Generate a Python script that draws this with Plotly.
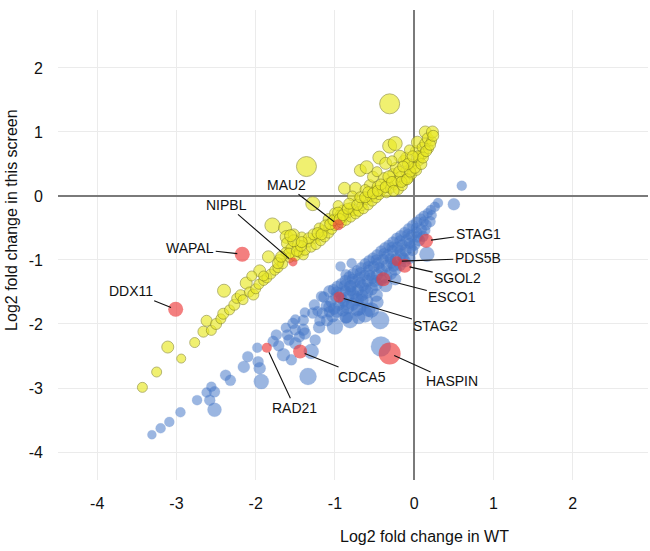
import plotly.graph_objects as go

# ---------------- data ----------------
yellow_wt = [-3.43, -3.25, -3.11, -2.94, -2.77, -2.66, -2.62, -2.56, -2.50, -2.44, -2.41, -2.40, -2.33, -2.27,
             -2.24, -2.19, -2.16, -2.12, -2.08, -2.03, -2.00, -1.96, -1.95, -1.90, -1.86, -1.84, -1.81, -1.79,
             -1.76, -1.72, -1.70, -1.66, -1.63, -1.61, -1.60, -1.62, -1.57, -1.55, -1.50, -1.47, -1.45, -1.40,
             -1.38, -1.36, -1.34, -1.30, -1.28, -1.25, -1.24, -1.18, -1.15, -1.13, -1.08, -1.08, -1.04, -1.00,
             -1.00, -0.98, -0.93, -0.92, -0.90, -0.88, -0.88, -0.86, -0.83, -0.80, -0.80, -0.76, -0.74, -0.74,
             -0.70, -0.70, -0.68, -0.66, -0.64, -0.60, -0.60, -0.58, -0.56, -0.55, -0.53, -0.50, -0.48, -0.46,
             -0.44, -0.44, -0.40, -0.38, -0.36, -0.35, -0.33, -0.31, -0.31, -0.30, -0.27, -0.25, -0.24, -0.23,
             -0.22, -0.20, -0.17, -0.15, -0.13, -0.12, -0.10, -0.10, -0.07, -0.04, -0.03, 0.00, 0.02, 0.03,
             0.04, 0.06, 0.08, 0.10, 0.12, 0.14, 0.14, 0.17, 0.18, 0.22, 0.23, -0.52, -0.47, -0.62, -0.78,
             -0.96, -1.20, -1.42, -1.52, -2.05, -0.18, -0.28, -0.06]
yellow_screen = [-2.99, -2.75, -2.36, -2.54, -2.29, -2.12, -1.95, -2.10, -2.00, -1.92, -1.84, -1.48, -1.78, -1.70,
                 -1.60, -1.55, -1.62, -1.36, -1.50, -1.54, -1.45, -1.38, -1.17, -1.32, -1.28, -0.95, -1.22, -0.46,
                 -1.16, -1.12, -1.00, -1.06, -0.50, -0.64, -0.74, -0.88, -0.96, -0.82, -0.94, -0.77, -0.88, -0.92,
                 -0.84, 0.46, -0.72, -0.80, -0.12, -0.66, -0.76, -0.70, -0.54, -0.64, -0.36, -0.58, -0.52, -0.27,
                 -0.46, -0.36, -0.30, -0.42, -0.22, -0.32, 0.12, -0.38, -0.26, -0.18, -0.33, -0.22, 0.12, -0.28,
                 -0.06, -0.24, 0.40, -0.15, -0.20, 0.45, -0.05, -0.14, 0.17, 0.00, -0.08, 0.08, -0.03, 0.15,
                 0.60, 0.02, 0.10, 0.28, 0.51, 0.05, 0.20, 0.78, 1.44, 0.12, 0.35, 0.18, 0.82, 0.44,
                 0.24, 0.10, 0.30, 0.16, 0.55, 0.24, 0.38, 0.60, 0.28, 0.45, 0.34, 0.50, 0.70, 0.40,
                 0.84, 0.55, 0.62, 0.76, 0.66, 0.82, 1.00, 0.90, 0.74, 0.86, 1.00, 0.30, 0.38, 0.10, 0.00,
                 -0.15, -0.50, -0.64, -0.60, -1.25, 0.62, 0.55, 0.72]
yellow_weight = [10, 10, 12, 9, 10, 11, 11, 10, 11, 10, 11, 13, 10, 11,
                 10, 11, 10, 12, 10, 11, 10, 10, 12, 10, 10, 12, 10, 15,
                 10, 10, 11, 10, 13, 13, 12, 10, 10, 11, 10, 11, 10, 10,
                 11, 20, 10, 10, 14, 10, 10, 10, 11, 10, 11, 10, 10, 11,
                 10, 10, 11, 10, 10, 11, 12, 10, 10, 10, 10, 11, 12, 10,
                 10, 10, 12, 10, 10, 13, 11, 10, 11, 11, 10, 10, 10, 11,
                 13, 10, 10, 11, 12, 10, 10, 14, 20, 10, 10, 10, 14, 11,
                 10, 10, 11, 10, 11, 10, 11, 11, 10, 10, 10, 10, 11, 10,
                 12, 10, 10, 10, 10, 11, 12, 11, 10, 10, 12, 11, 10, 10, 10,
                 10, 10, 10, 11, 10, 12, 10, 10]

# extra yellow points in the crowded part of the band
yellow_dense_wt = [-1.58, -1.48, -1.43, -1.33, -1.27, -1.22, -1.17, -1.12, -1.06, -1.02, -0.96, -0.94,
                   -0.90, -0.84, -0.82, -0.72, -0.68, -0.62, -0.58, -0.52, -0.46, -0.42, -0.36, -0.32,
                   -0.28, -0.26, -0.19, -0.16, -0.09, -0.05, 0.01, 0.05, 0.09, 0.11, 0.15, 0.20, 0.24,
                   -0.08, -0.02, -0.14, -1.90, -1.72, -1.68, -1.52, -1.42, -1.56]
yellow_dense_screen = [-0.90, -0.86, -0.78, -0.66, -0.60, -0.58, -0.60, -0.46, -0.44, -0.38, -0.26, -0.36,
                       -0.30, -0.20, -0.12, -0.14, -0.02, -0.02, 0.06, 0.04, 0.08, 0.18, 0.14, 0.30,
                       0.22, 0.08, 0.38, 0.22, 0.26, 0.38, 0.44, 0.62, 0.50, 0.60, 0.70, 0.80, 0.94,
                       0.50, 0.62, 0.46, -1.25, -1.05, -0.95, -0.70, -0.72, -0.62]
yellow_dense_weight = [11, 11, 11, 11, 11, 11, 11, 11, 11, 11, 11, 11,
                       11, 11, 11, 11, 11, 11, 11, 11, 11, 11, 11, 12,
                       11, 11, 11, 11, 11, 11, 11, 11, 11, 11, 11, 11, 11,
                       11, 11, 11, 10, 11, 11, 12, 11, 12]

blue_wt = [-3.31, -3.20, -3.09, -2.95, -2.74, -2.62, -2.58, -2.52, -2.52, -2.56, -2.38, -2.32, -2.15, -2.10,
           -1.98, -1.97, -1.95, -1.93, -1.78, -1.74, -1.71, -1.65, -1.60, -1.55, -1.50, -1.50, -1.53, -1.40,
           -1.40, -1.34, -1.30, -1.38, -1.28, -1.17, -1.16, -1.10, -1.07, -1.07, -1.03, -1.00, -0.86, -0.81,
           -0.86, -0.93, -0.79, -0.80, -0.66, -0.54, -0.43, -0.42, 0.16, 0.50, 0.60, 0.30,
           0.26, 0.17, 0.08, -0.02, -0.12, -0.22, -0.32, -0.42, -0.52, -0.62, -0.72, -0.82, -0.92, -1.02,
           -1.14, -1.26, -1.38, -1.50, -1.62,
           0.20, 0.09, -0.03, -0.15, -0.27, -0.39, -0.51, -0.63, -0.75, -0.87, -0.99, -1.11, -1.22,
           0.11, 0.00, -0.11, -0.23, -0.35, -0.47, -0.59, -0.71, -0.83, -0.95, -1.07, -1.19,
           -0.06, -0.18, -0.30, -0.42, -0.54, -0.66, -0.78, -0.90,
           -0.24, -0.36, -0.48, -0.60, -0.72, -0.86,
           -0.47, -0.58, -0.70,
           0.22, 0.12, 0.02, -0.08, -0.18, -0.28, -0.38, -0.48, -0.58, -0.68, -0.78, -0.88, -0.98,
           0.14, 0.04, -0.06, -0.18, -0.30, -0.44, -0.56, -0.68, -0.80, -0.92,
           -0.02, -0.14, -0.26, -0.50, -0.62, -0.74, -0.86, -0.98]
blue_screen = [-3.73, -3.63, -3.53, -3.38, -3.19, -3.07, -3.19, -3.34, -3.06, -2.98, -2.80, -2.88, -2.67, -2.51,
               -2.37, -2.59, -2.69, -2.90, -2.27, -2.17, -2.34, -2.48, -2.17, -2.56, -2.09, -2.30, -1.99, -1.94,
               -2.09, -2.82, -2.43, -2.15, -1.83, -1.57, -1.83, -1.94, -1.49, -1.73, -1.87, -2.04, -1.88, -1.94,
               -1.23, -1.10, -1.05, -1.41, -1.63, -1.78, -1.94, -2.35, -0.91, -0.13, 0.16, -0.11,
               -0.17, -0.27, -0.36, -0.46, -0.57, -0.66, -0.77, -0.86, -0.97, -1.06, -1.17, -1.26, -1.37, -1.46,
               -1.58, -1.70, -1.82, -1.93, -2.06,
               -0.40, -0.52, -0.62, -0.76, -0.86, -0.99, -1.10, -1.24, -1.34, -1.48, -1.58, -1.72, -1.80,
               -0.63, -0.76, -0.85, -0.99, -1.09, -1.23, -1.33, -1.47, -1.57, -1.71, -1.81, -1.95,
               -0.97, -1.08, -1.21, -1.31, -1.45, -1.55, -1.69, -1.79,
               -1.30, -1.40, -1.55, -1.64, -1.78, -1.90,
               -1.66, -1.78, -1.90,
               -0.30, -0.40, -0.50, -0.60, -0.70, -0.80, -0.90, -1.00, -1.10, -1.20, -1.30, -1.40, -1.50,
               -0.54, -0.64, -0.74, -0.86, -0.98, -1.12, -1.24, -1.36, -1.48, -1.60,
               -0.85, -0.97, -1.09, -1.33, -1.45, -1.57, -1.69, -1.81]
blue_weight = [9, 10, 10, 10, 10, 10, 11, 14, 11, 10, 11, 11, 12, 11,
               10, 11, 12, 15, 11, 11, 11, 13, 11, 11, 11, 12, 11, 11,
               12, 17, 15, 12, 11, 11, 11, 12, 12, 12, 13, 16, 14, 16,
               11, 10, 10, 12, 13, 15, 18, 20, 15, 12, 10, 10,
               10, 10, 11, 11, 11, 11, 11, 11, 11, 11, 11, 11, 11, 11,
               11, 11, 10, 10, 10,
               11, 11, 12, 11, 12, 11, 12, 11, 12, 11, 11, 11, 10,
               11, 12, 12, 12, 12, 12, 12, 12, 12, 11, 11, 11,
               12, 12, 13, 12, 13, 12, 13, 12,
               12, 13, 13, 13, 13, 12,
               13, 14, 13,
               10, 10, 10, 11, 11, 11, 11, 11, 11, 11, 11, 11, 11,
               10, 11, 11, 11, 11, 11, 11, 11, 11, 11,
               11, 11, 12, 12, 12, 12, 12, 12]

# extra blue points filling the crowded wedge
blue_dense_wt = [0.21, 0.12, 0.03, -0.07, -0.17, -0.27, -0.37, -0.47, -0.57, -0.67, -0.77, -0.87, -0.97,
                 0.15, 0.03, -0.09, -0.21, -0.33, -0.45, -0.57, -0.69, -0.81, -0.93, -1.05,
                 0.06, -0.05, -0.17, -0.29, -0.41, -0.53, -0.65, -0.77, -0.89, -1.01,
                 -0.12, -0.24, -0.36, -0.48, -0.60, -0.72, -0.84,
                 -1.58, -1.45, -1.20, -1.25, -0.70, -0.62]
blue_dense_screen = [-0.22, -0.31, -0.41, -0.51, -0.62, -0.72, -0.81, -0.92, -1.01, -1.12, -1.21, -1.32, -1.41,
                     -0.45, -0.57, -0.69, -0.81, -0.93, -1.05, -1.17, -1.29, -1.41, -1.53, -1.65,
                     -0.69, -0.80, -0.92, -1.04, -1.16, -1.28, -1.40, -1.52, -1.64, -1.76,
                     -1.02, -1.14, -1.26, -1.38, -1.50, -1.62, -1.74,
                     -2.25, -2.20, -2.05, -2.25, -1.75, -1.85]
blue_dense_weight = [10, 10, 11, 11, 11, 11, 11, 11, 11, 11, 11, 11, 11,
                     11, 11, 12, 12, 12, 12, 12, 12, 12, 12, 11,
                     12, 12, 12, 12, 12, 12, 12, 12, 12, 12,
                     12, 13, 13, 13, 13, 13, 13,
                     11, 11, 12, 11, 15, 16]

hit_genes = ["MAU2", "NIPBL", "WAPAL", "DDX11", "STAG1", "PDS5B", "SGOL2", "ESCO1", "STAG2", "HASPIN", "CDCA5", "RAD21"]
hit_wt = [-0.96, -1.53, -2.17, -3.01, 0.15, -0.22, -0.12, -0.39, -0.95, -0.31, -1.44, -1.86]
hit_screen = [-0.45, -1.03, -0.91, -1.77, -0.70, -1.02, -1.09, -1.30, -1.58, -2.46, -2.43, -2.37]
hit_weight = [11, 9, 15, 15, 14, 10, 14, 14, 11, 22, 14, 10]

tick_vals_x = [-4, -3, -2, -1, 0, 1, 2]
tick_text_x = ["-4", "-3", "-2", "-1", "0", "1", "2"]
tick_vals_y = [-4, -3, -2, -1, 0, 1, 2]
tick_text_y = ["-4", "-3", "-2", "-1", "0", "1", "2"]

# label placement (pixel offsets of label centre from the point)
label_offsets = {
    "MAU2": (-52, -40), "NIPBL": (-66, -57), "WAPAL": (-52, -6), "DDX11": (-45, -18),
    "STAG1": (52, -7), "PDS5B": (81, -3), "SGOL2": (53, 12), "ESCO1": (69, 18),
    "STAG2": (97, 29), "HASPIN": (62, 28), "CDCA5": (62, 25), "RAD21": (28, 60),
}

FONT = "Liberation Sans, Arial, sans-serif"

fig = go.Figure()
fig.add_trace(go.Scatter(
    x=yellow_wt + yellow_dense_wt, y=yellow_screen + yellow_dense_screen, mode="markers",
    marker=dict(size=yellow_weight + yellow_dense_weight, color="rgba(234,234,38,0.93)",
                line=dict(color="rgba(128,128,30,0.8)", width=1)),
    hoverinfo="skip", showlegend=False))
fig.add_trace(go.Scatter(
    x=blue_wt + blue_dense_wt, y=blue_screen + blue_dense_screen, mode="markers",
    marker=dict(size=blue_weight + blue_dense_weight, color="rgba(70,120,200,0.76)",
                line=dict(color="rgba(70,115,190,0.35)", width=0.5)),
    hoverinfo="skip", showlegend=False))
fig.add_trace(go.Scatter(
    x=hit_wt, y=hit_screen, mode="markers",
    marker=dict(size=hit_weight, color="rgba(236,58,58,0.93)", line=dict(width=0)),
    hoverinfo="skip", showlegend=False))

annotations = []
for g, xv, yv in zip(hit_genes, hit_wt, hit_screen):
    ax, ay = label_offsets[g]
    annotations.append(dict(
        x=xv, y=yv, xref="x", yref="y", text=g, showarrow=True,
        ax=ax, ay=ay, arrowhead=0, arrowwidth=1.1, arrowcolor="#111111",
        standoff=5, font=dict(family=FONT, size=14, color="#111111")))

annotations.append(dict(
    text="Log2 fold change in WT", xref="paper", yref="paper",
    x=0.622, y=-0.121, showarrow=False, xanchor="center", yanchor="middle",
    font=dict(family=FONT, size=16, color="#111111")))
annotations.append(dict(
    text="Log2 fold change in this screen", xref="paper", yref="paper",
    x=-0.080, y=0.553, showarrow=False, textangle=-90, xanchor="center", yanchor="middle",
    font=dict(family=FONT, size=16, color="#111111")))

fig.update_layout(
    width=650, height=551,
    margin=dict(l=58, r=2, t=10, b=71),
    paper_bgcolor="white", plot_bgcolor="white",
    font=dict(family=FONT, size=16, color="#111111"),
    annotations=annotations,
    xaxis=dict(range=[-4.495, 2.95], tickvals=tick_vals_x, ticktext=tick_text_x,
               showgrid=True, gridcolor="#ebebeb", gridwidth=1,
               zeroline=True, zerolinecolor="#7a7a7a", zerolinewidth=1.5,
               showline=False, ticks="", ticklabelstandoff=12,
               tickfont=dict(family=FONT, size=16, color="#111111")),
    yaxis=dict(range=[-4.4375, 2.906], tickvals=tick_vals_y, ticktext=tick_text_y,
               showgrid=True, gridcolor="#ebebeb", gridwidth=1,
               zeroline=True, zerolinecolor="#7a7a7a", zerolinewidth=1.5,
               showline=False, ticks="", ticklabelstandoff=14,
               tickfont=dict(family=FONT, size=16, color="#111111")),
)

# remove the browser's default 8px body margin so the figure fills the window
fig.write_html("out.html", config={"displayModeBar": False},
               post_script="document.body.style.margin='0px';")
